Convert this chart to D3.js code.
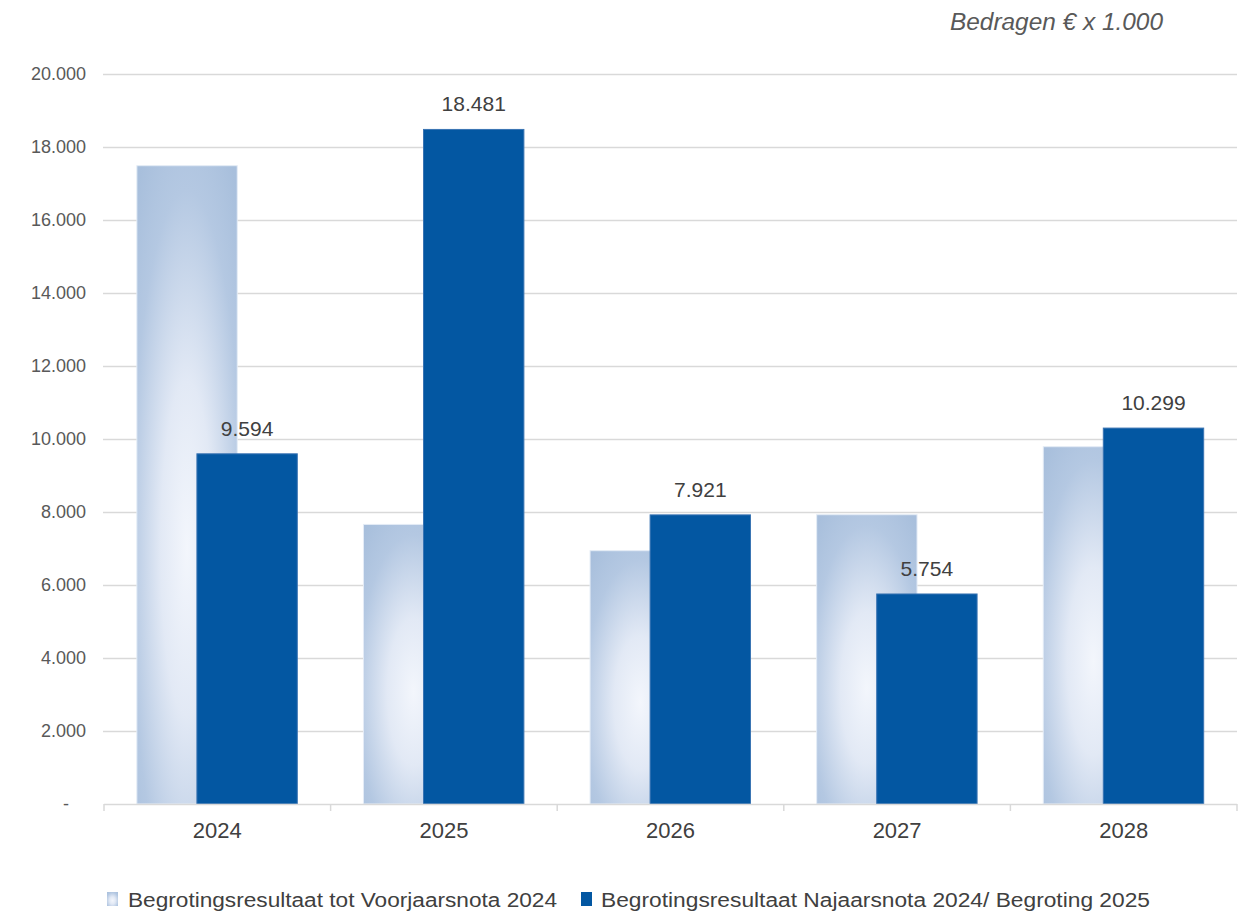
<!DOCTYPE html>
<html><head><meta charset="utf-8">
<script src="https://cdn.jsdelivr.net/npm/d3@7"></script>
<style>body{margin:0;background:#fff}svg{display:block;font-family:"Liberation Sans",Arial,sans-serif}</style>
</head><body><svg id="c" width="1238" height="914"></svg>
<script>
const categories = ["2024","2025","2026","2027","2028"];
const seriesNames = ["Begrotingsresultaat tot Voorjaarsnota 2024","Begrotingsresultaat Najaarsnota 2024/ Begroting 2025"];
const voorjaarsnota = [17488, 7660, 6940, 7926, 9789];
const najaarsnota = [9594, 18481, 7921, 5754, 10299];
const yTicks = [0,2000,4000,6000,8000,10000,12000,14000,16000,18000,20000];
const unitLabel = "Bedragen € x 1.000";

const svg = d3.select("#c");
const loc = d3.formatLocale({decimal:",",thousands:".",grouping:[3],currency:["€",""]});
const fmt = loc.format(",d");
const x = d3.scaleBand().domain(categories).range([104,1237]).padding(0);
const y = d3.scaleLinear().domain([0,20000]).range([804,74]);
const bw = x.bandwidth();

const defs = svg.append("defs");
const g = defs.append("radialGradient").attr("id","lg").attr("cx","0.5").attr("cy","0.6").attr("r","0.75").attr("fx","0.5").attr("fy","0.6");
g.append("stop").attr("offset","0").attr("stop-color","#f3f6fc");
g.append("stop").attr("offset","0.35").attr("stop-color","#e2e9f5");
g.append("stop").attr("offset","0.75").attr("stop-color","#b4c8e2");
g.append("stop").attr("offset","1").attr("stop-color","#a8bfdc");

// grid
svg.append("g").selectAll("line").data(yTicks.filter(d=>d>0)).join("line")
  .attr("x1",103).attr("x2",1237).attr("y1",d=>y(d)+0.5).attr("y2",d=>y(d)+0.5)
  .attr("stroke","#d9d9d9").attr("stroke-width",1.5);

// y axis labels
const ya = svg.append("g").attr("transform","translate(86,0)")
  .call(d3.axisLeft(y).tickValues(yTicks).tickSize(0).tickPadding(0).tickFormat(d=>d===0?"-":fmt(d)));
ya.select(".domain").remove();
ya.selectAll("text").attr("font-size",18).attr("fill","#595959").attr("font-family","Liberation Sans, Arial, sans-serif")
  .attr("dx",d=>d===0?-17:0);

// bars
const lightOff = bw*0.145, darkOff = bw*0.41, barW = bw*0.443;
svg.append("g").selectAll("rect").data(voorjaarsnota).join("rect")
  .attr("x",(d,i)=>x(categories[i])+lightOff).attr("width",barW)
  .attr("y",d=>y(d)).attr("height",d=>y(0)-y(d))
  .attr("fill","url(#lg)").attr("stroke","#e4ecf6").attr("stroke-width",1);
svg.append("g").selectAll("rect").data(najaarsnota).join("rect")
  .attr("x",(d,i)=>x(categories[i])+darkOff).attr("width",barW)
  .attr("y",d=>y(d)).attr("height",d=>y(0)-y(d))
  .attr("fill","#0357a2").attr("stroke","#3a74b3").attr("stroke-width",1);

// value labels
svg.append("g").selectAll("text").data(najaarsnota).join("text")
  .attr("x",(d,i)=>x(categories[i])+darkOff+barW/2).attr("y",d=>y(d)-18)
  .attr("text-anchor","middle").attr("font-size",21).attr("fill","#404040").text(d=>fmt(d));

// x axis
svg.append("line").attr("x1",104).attr("x2",1237).attr("y1",804.5).attr("y2",804.5).attr("stroke","#d9d9d9").attr("stroke-width",1.5);
svg.append("g").selectAll("line").data(categories.concat(["end"])).join("line")
  .attr("x1",(d,i)=>i<categories.length?x(d):x.range()[1]).attr("x2",(d,i)=>i<categories.length?x(d):x.range()[1])
  .attr("y1",804).attr("y2",811).attr("stroke","#d9d9d9").attr("stroke-width",1.5);
const xa = svg.append("g").attr("transform","translate(0,822)").call(d3.axisBottom(x).tickSize(0).tickPadding(0));
xa.select(".domain").remove();
xa.selectAll("text").attr("font-size",22).attr("fill","#404040").attr("font-family","Liberation Sans, Arial, sans-serif");

// unit label
svg.append("text").attr("x",1163).attr("y",30).attr("text-anchor","end").attr("font-size",23)
  .attr("font-style","italic").attr("fill","#595959").attr("textLength",213).attr("lengthAdjust","spacingAndGlyphs").text(unitLabel);

// legend
const legX = [107,581], legTextX=[128,601], legTextW=[429,549];
const lg = svg.append("g");
lg.append("rect").attr("x",legX[0]).attr("y",892).attr("width",11).attr("height",14).attr("fill","url(#lg)");
lg.append("rect").attr("x",legX[1]).attr("y",892).attr("width",11).attr("height",14).attr("fill","#0357a2");
seriesNames.forEach((s,i)=>{
  lg.append("text").attr("x",legTextX[i]).attr("y",907).attr("font-size",20).attr("fill","#404040")
    .attr("textLength",legTextW[i]).attr("lengthAdjust","spacingAndGlyphs").text(s);
});
</script></body></html>
